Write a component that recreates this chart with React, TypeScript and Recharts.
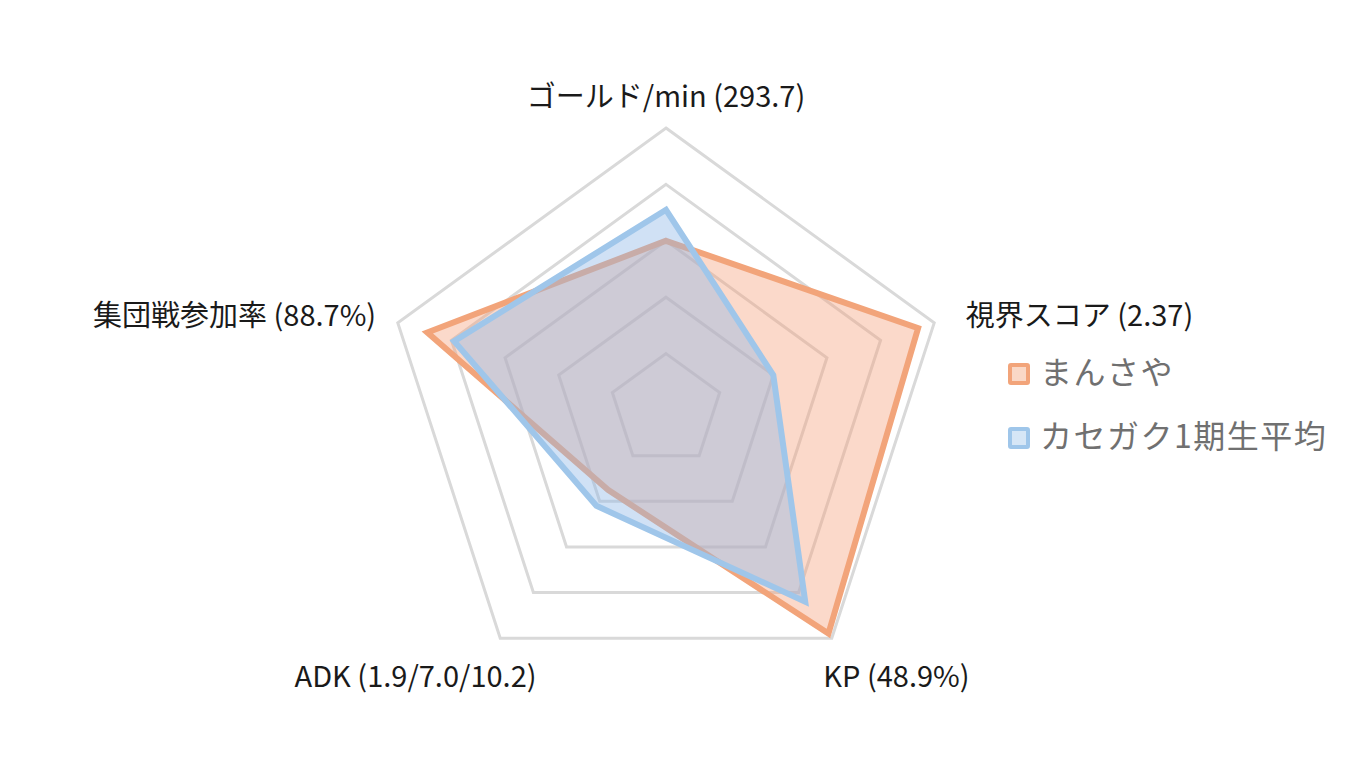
import { RadarChart, Radar, PolarGrid, PolarAngleAxis, PolarRadiusAxis, Legend } from 'recharts';

const categories = ['ゴールド/min (293.7)', '視界スコア (2.37)', 'KP (48.9%)', 'ADK (1.9/7.0/10.2)', '集団戦参加率 (88.7%)'];
const mansaya = [0.6, 0.94, 0.98, 0.35, 0.89];
const classAverage = [0.71, 0.4, 0.84, 0.42, 0.79];
const seriesNames = ['まんさや', 'カセガク1期生平均'];

const data = categories.map((name, i) => ({ name, a: mansaya[i], b: classAverage[i] }));

const FONT = '"Noto Sans CJK JP", "Noto Sans", sans-serif';
const OUTER = 282;
const RINGS = 5;

// label nudges from the default tick point, per axis (top, right, bottom-right, bottom-left, left)
const tickShift = [
    { dx: 0, dy: -26, anchor: 'middle' },
    { dx: 24, dy: -7, anchor: 'start' },
    { dx: 60, dy: 29, anchor: 'middle' },
    { dx: -80, dy: 29, anchor: 'middle' },
    { dx: -14, dy: -7, anchor: 'end' },
];

const AngleTick = (props: any) => {
    const { x, y, payload, index } = props;
    const s = tickShift[index] || tickShift[0];
    return (
        <text x={x + s.dx} y={y + s.dy} textAnchor={s.anchor} dominantBaseline="central" fontSize={29} fill="#1a1a1a" fontFamily={FONT}>
            {payload.value}
        </text>
    );
};

const legendStyles = [
    { stroke: '#f2a47a', fill: '#fad8c6' },
    { stroke: '#9fc6ea', fill: '#d6e6f6' },
];

const renderLegend = () => (
    <div style={{ fontFamily: FONT }}>
        {seriesNames.map((n, i) => (
            <div key={n} style={{ display: 'flex', alignItems: 'center', height: 64 }}>
                <span style={{
                    width: 14, height: 14, border: `4px solid ${legendStyles[i].stroke}`, background: legendStyles[i].fill,
                    borderRadius: 3, display: 'inline-block', marginRight: 10,
                }} />
                <span style={{ fontSize: 32, color: '#707070', letterSpacing: 1.5, position: 'relative', top: -4 }}>{n}</span>
            </div>
        ))}
    </div>
);

const ringRadii = Array.from({ length: RINGS }, (_, k) => (OUTER * (k + 1)) / RINGS);

const App = () => {
    return (
        <div style={{ background: '#fff' }}>
            <RadarChart width={1350} height={752} data={data} cx={658} cy={402} outerRadius={OUTER} startAngle={90} endAngle={-270}>
                <PolarGrid gridType="polygon" radialLines={false} polarRadius={ringRadii} stroke="#d9d9d9" strokeWidth={3} />
                <PolarAngleAxis dataKey="name" tick={AngleTick} tickLine={false} axisLine={false} />
                <PolarRadiusAxis domain={[0, 1]} tickCount={6} tick={false} axisLine={false} />
                <Radar name={seriesNames[0]} dataKey="a" stroke="#f2a47a" strokeWidth={6} fill="#f4a07a" fillOpacity={0.4} isAnimationActive={false} />
                <Radar name={seriesNames[1]} dataKey="b" stroke="#9fc6ea" strokeWidth={6} fill="#8fb8e6" fillOpacity={0.42} isAnimationActive={false} />
                <Legend content={renderLegend} layout="vertical" verticalAlign="top" align="left" wrapperStyle={{ left: 1000, top: 334, width: 340 }} />
            </RadarChart>
        </div>
    );
};

export default App;
